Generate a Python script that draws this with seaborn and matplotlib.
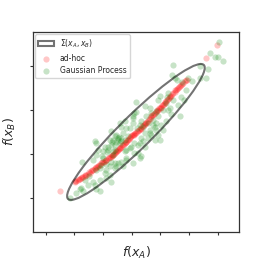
import numpy as np
import matplotlib
matplotlib.use("Agg")
import matplotlib.pyplot as plt
from matplotlib.patches import Ellipse
import seaborn as sns

sns.set_style("ticks")
plt.rcParams['font.family'] = ['DejaVu Sans']

# ad-hoc samples (red)
adhoc_x = [-2.51, -1.99, -1.93, -1.86, -1.80, -1.76, -1.70, -1.64, -1.58, -1.52, -1.46,
           -1.40, -1.35, -1.29, -1.23, -1.17, -1.12, -1.06, -1.00, -0.94, -0.88, -0.82,
           -0.76, -0.70, -0.65, -0.59, -0.53, -0.47, -0.42, -0.36, -0.30, -0.24, -0.19,
           -0.13, -0.07, -0.01, 0.05, 0.10, 0.16, 0.22, 0.28, 0.34, 0.40, 0.45, 0.51,
           0.57, 0.63, 0.69, 0.75, 0.81, 0.87, 0.92, 0.98, 1.04, 1.10, 1.15, 1.21, 1.27,
           1.33, 1.38, 1.44, 1.50, 1.56, 1.62, 1.67, 1.73, 1.79, 1.85, 1.93, 2.60, 2.98,
           -1.96, -1.83, -1.73, -1.61, -1.49, -1.37, -1.26, -1.15, -1.03, -0.91, -0.79,
           -0.68, -0.56, -0.44, -0.33, -0.21, -0.10, 0.02, 0.13, 0.25, 0.37, 0.48, 0.60,
           0.72, 0.84, 0.95, 1.07, 1.18, 1.30, 1.41, 1.53, 1.65, 1.76, 1.89,
           -1.20, -0.97, -0.73, -0.50, -0.27, -0.04, 0.19, 0.42, 0.66, 0.89, 1.12,
           1.35, 1.59, -0.62, -0.39, -0.16, 0.08, 0.31, 0.54, 0.78, 1.01, 1.24]
adhoc_y = [-0.84, -0.63, -0.60, -0.58, -0.56, -0.54, -0.51, -0.49, -0.47, -0.44, -0.42,
           -0.39, -0.37, -0.34, -0.30, -0.27, -0.24, -0.21, -0.18, -0.16, -0.13, -0.10,
           -0.07, -0.05, -0.02, 0.02, 0.06, 0.10, 0.13, 0.17, 0.21, 0.25, 0.28,
           0.32, 0.36, 0.40, 0.43, 0.46, 0.48, 0.52, 0.56, 0.60, 0.64, 0.67, 0.71,
           0.74, 0.80, 0.85, 0.89, 0.93, 0.98, 1.00, 1.03, 1.07, 1.11, 1.15, 1.19, 1.24,
           1.28, 1.32, 1.37, 1.41, 1.45, 1.49, 1.53, 1.56, 1.60, 1.64, 1.68, 2.18, 2.47,
           -0.60, -0.57, -0.52, -0.47, -0.41, -0.36, -0.31, -0.24, -0.19, -0.13, -0.08,
           -0.02, 0.05, 0.12, 0.20, 0.27, 0.35, 0.42, 0.48, 0.55, 0.63, 0.70, 0.79,
           0.88, 0.96, 1.05, 1.10, 1.17, 1.27, 1.35, 1.44, 1.52, 1.59, 1.67,
           -0.29, -0.17, -0.06, 0.08, 0.23, 0.38, 0.51, 0.65, 0.83, 1.00, 1.14,
           1.31, 1.48, 0.00, 0.14, 0.31, 0.44, 0.57, 0.72, 0.90, 1.05, 1.22]

# Gaussian process samples (green)
gp_x = [3.05, 2.74, 2.90, 3.02, 3.17, 2.37, 2.66, 1.44, 1.42, 1.59, 1.77, 1.98, 2.12, 2.37,
        2.58, 1.50, 1.27, 1.83, 1.62, 1.33, 1.38, 1.67, 1.24, 0.98, 0.92, 1.21, 1.21, 1.03,
        1.09, 0.86, 0.92, 0.63, 0.45, 0.51, 0.16, 0.16, 0.05, 0.10, 0.74, 0.80, 0.86, 0.63,
        0.63, 0.45, 0.57, 0.69, 0.98, 0.92, 0.80, 0.40, 0.45, 0.34, 0.22, 0.28, 0.10, -0.07,
        0.05, -0.19, -0.36, -0.53, -0.71, -0.65, -0.83, -0.59, -0.48, -0.71, -0.24, -0.19,
        -0.01, 0.10, 0.22, 0.34, 0.28, 0.34, 0.05, -0.19, -0.07, -0.24, 0.05, -0.36, -0.42,
        -0.30, -0.59, -0.48, -0.71, -0.94, -1.17, -1.29, -0.59, -0.42, -0.77, -0.83, -1.23,
        -1.00, -1.35, -1.06, -0.19, -0.48, -0.30, -0.77, -1.23, -1.00, -0.65, -0.59, -0.88,
        -1.12, -0.94, -0.91, -1.23, -0.59, -1.72, -0.77, -0.88, -1.35, -1.12, -0.71, -1.47,
        -1.64, -1.29, -1.52, -1.76, -1.81, -1.93, -2.16, -1.70, -1.23, -1.12, 0.69, 1.44,
        1.09, 0.74, 0.40, 0.57, 0.86, 1.27, 1.73, 1.91, -0.65, -0.53, -0.36, -0.24, -0.13,
        -0.55, -0.45, -0.68, -0.38, 0.20, 0.30, -0.85, -1.05]
gp_y = [2.53, 2.28, 2.20, 2.19, 2.10, 1.99, 1.92, 2.01, 1.79, 1.68, 1.63, 1.71, 1.65, 1.72,
        1.71, 1.73, 1.38, 1.23, 1.11, 1.04, 0.90, 0.85, 1.28, 1.32, 1.23, 1.15, 0.74, 0.66,
        0.55, 0.98, 0.85, 1.04, 1.08, 0.85, 1.17, 0.96, 0.87, 0.92, 0.66, 0.62, 0.55, 0.55,
        0.47, 0.47, 0.36, 0.44, 0.32, 0.44, 0.32, 0.29, 0.17, -0.05, 0.02, -0.09, 0.25, 0.14,
        -0.20, -0.09, -0.17, -0.28, -0.17, -0.02, 0.10, 0.21, 0.36, 0.51, 0.06, 0.10,
        0.17, 0.02, 0.21, 0.36, 0.25, 0.74, 0.70, 0.59, 0.59, 0.74, 0.81, 0.62, 0.70,
        0.47, 0.40, 0.32, 0.21, 0.17, 0.10, 0.29, 0.10, 0.25, 0.32, 0.17, 0.25,
        0.06, -0.13, -0.24, -0.13, -0.20, -0.28, -0.28, -0.02, -0.09, 0.06, -0.20, -0.35,
        -0.32, -0.43, -0.22, -0.35, -0.32, -0.19, -0.47, -0.54, -0.62, -0.58, -0.62, -0.50,
        -0.58, -0.69, -0.69, -0.77, -0.80, -0.88, -0.99, -0.84, -0.80, -0.84, 0.92, 1.23,
        1.00, 0.77, 0.62, 0.70, 0.70, 1.00, 1.30, 1.45, 0.32, 0.44, 0.29, 0.32, 0.40,
        0.27, 0.38, 0.28, 0.36, 0.60, 0.66, 0.05, -0.05]

# covariance ellipse of (x_A, x_B)
sigma_mean = [0.15, 0.50]
sigma_cov = [[1.44, 0.87], [0.87, 0.59]]
n_std = 2

x_ticks = [-3, -2, -1, 0, 1, 2, 3]
y_ticks = [-1, 0, 1, 2]

fig = plt.figure(figsize=(2.66, 2.66), dpi=100)
ax = fig.add_axes([0.124, 0.128, 0.774, 0.752])

vals, vecs = np.linalg.eigh(np.array(sigma_cov))
order = vals.argsort()[::-1]
vals, vecs = vals[order], vecs[:, order]
angle = np.degrees(np.arctan2(vecs[1, 0], vecs[0, 0]))
ell = Ellipse(xy=sigma_mean, width=2 * n_std * np.sqrt(vals[0]), height=2 * n_std * np.sqrt(vals[1]),
              angle=angle, facecolor='none', edgecolor='black', alpha=0.55, lw=1.5,
              label=r'$\Sigma(x_A, x_B)$', zorder=5)
ax.add_patch(ell)

sns.scatterplot(x=adhoc_x, y=adhoc_y, color='red', alpha=0.22, s=20, linewidth=0, label='ad-hoc', ax=ax)
sns.scatterplot(x=gp_x, y=gp_y, color='green', alpha=0.22, s=20, linewidth=0, label='Gaussian Process', ax=ax)

ax.set_xlim(-3.44, 3.74)
ax.set_ylim(-1.76, 2.76)
ax.set_xticks(x_ticks)
ax.set_yticks(y_ticks)
ax.set_xticklabels([])
ax.set_yticklabels([])
ax.tick_params(length=2.5, width=0.8, color='0.2')
for sp in ax.spines.values():
    sp.set_linewidth(0.9)
    sp.set_color('0.2')
ax.set_xlabel(r'$f(x_A)$', fontsize=9, labelpad=3)
ax.set_ylabel(r'$f(x_B)$', fontsize=9, labelpad=5)
ax.legend(loc='upper left', fontsize=5.5, frameon=True, borderaxespad=0.3)

fig.savefig('out.png', dpi=100)
